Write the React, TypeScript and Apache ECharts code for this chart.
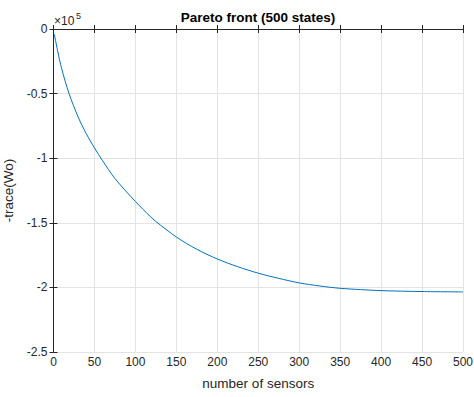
import React, { useEffect, useRef } from "react";
import * as echarts from "echarts";

// number of sensors
const sensors = [1, 5, 10, 19, 30, 40, 50, 60, 75, 100, 118, 125, 150, 175, 200, 225, 250, 275, 300, 325, 350, 375, 400, 450, 500];
// -trace(Wo), in units of 1e5
const traceValues = [-0.04, -0.168, -0.308, -0.5, -0.68, -0.81, -0.92, -1.02, -1.157, -1.335, -1.45, -1.49, -1.61, -1.705, -1.78, -1.84, -1.89, -1.93, -1.965, -1.989, -2.007, -2.017, -2.025, -2.032, -2.035];

const titleText = "Pareto front (500 states)";
const xName = "number of sensors";
const yName = "-trace(Wo)";

const FONT = "'Liberation Sans', Arial, Helvetica, sans-serif";
const TXT = "#262626";

export default function App() {
  const ref = useRef<HTMLDivElement>(null);
  useEffect(() => {
    if (!ref.current) return;
    const chart = echarts.init(ref.current, null, { renderer: "svg" });
    const gridL = 53.5, gridR = 11, gridT = 29, gridB = 45;
    const common = {
      axisLine: { show: true, lineStyle: { color: TXT, width: 1 } },
      axisTick: { show: true, inside: true, length: 4, lineStyle: { color: TXT } },
    };
    chart.setOption({
      animation: false,
      backgroundColor: "#ffffff",
      textStyle: { fontFamily: FONT },
      grid: { left: gridL, right: gridR, top: gridT, bottom: gridB, containLabel: false, outerBoundsMode: "none" },
      xAxis: [
        {
          type: "value", min: 0, max: 500, interval: 50, position: "bottom",
          ...common,
          axisLabel: { color: TXT, fontSize: 12, fontFamily: FONT, margin: 4 },
          splitLine: { show: true, lineStyle: { color: "#e3e3e3", width: 1 } },
          name: xName, nameLocation: "middle", nameGap: 24,
          nameTextStyle: { color: TXT, fontSize: 13.5, fontFamily: FONT },
        },
        {
          type: "value", min: 0, max: 500, interval: 50, position: "top",
          ...common,
          axisLabel: { show: false },
          splitLine: { show: false },
        },
      ],
      yAxis: [
        {
          type: "value", min: -2.5, max: 0, interval: 0.5, position: "left",
          ...common,
          axisLabel: { color: TXT, fontSize: 12, fontFamily: FONT, margin: 6 },
          splitLine: { show: true, lineStyle: { color: "#e3e3e3", width: 1 } },
          name: yName, nameLocation: "middle", nameGap: 31, nameRotate: 90,
          nameTextStyle: { color: TXT, fontSize: 13.5, fontFamily: FONT },
        },
        {
          type: "value", min: -2.5, max: 0, interval: 0.5, position: "right",
          ...common,
          axisLabel: { show: false },
          splitLine: { show: false },
        },
      ],
      graphic: [
        {
          type: "text", x: 258, y: 17,
          style: { text: titleText, font: `bold 13.5px ${FONT}`, fill: "#000", textAlign: "center", textVerticalAlign: "middle" },
        },
        {
          type: "text", x: 54, y: 21,
          style: { text: "×10", font: `12px ${FONT}`, fill: TXT, textAlign: "left", textVerticalAlign: "middle" },
        },
        {
          type: "text", x: 76, y: 16,
          style: { text: "5", font: `9px ${FONT}`, fill: TXT, textAlign: "left", textVerticalAlign: "middle" },
        },
      ],
      series: [
        {
          type: "line",
          data: sensors.map((s, i) => [s, traceValues[i]]),
          smooth: 0.3,
          showSymbol: false,
          lineStyle: { color: "#0072BD", width: 1 },
          itemStyle: { color: "#0072BD" },
          clip: true,
        },
      ],
    });
    return () => chart.dispose();
  }, []);
  return <div ref={ref} style={{ width: 474, height: 397, position: "absolute", left: 0, top: 0 }} />;
}
